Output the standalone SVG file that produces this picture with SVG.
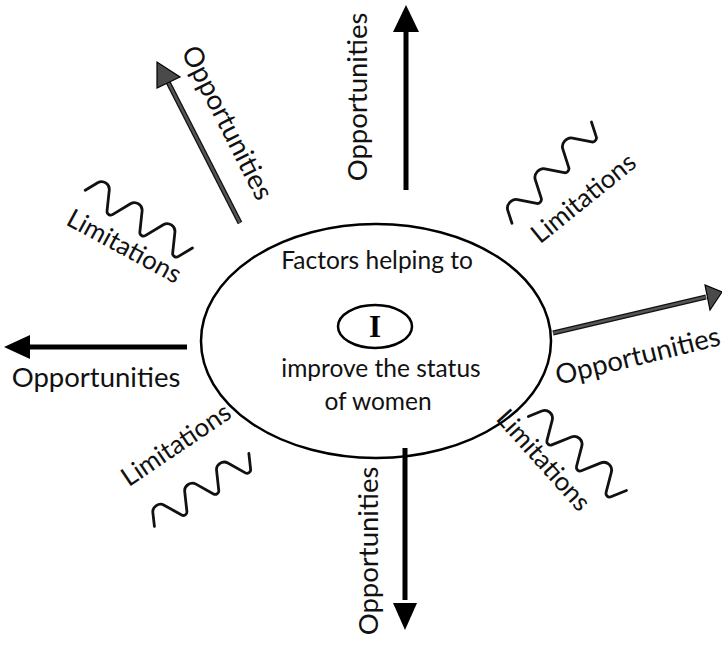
<svg xmlns="http://www.w3.org/2000/svg" width="722" height="647" viewBox="0 0 722 647">
  <defs>
    <style>
      .lbl { font-family: Lato, "Open Sans", "Liberation Sans", sans-serif; fill: #111; }
      .opp { font-size: 27.5px; }
      .lim { font-size: 26px; }
      .inner { font-size: 24.5px; text-anchor: middle; }
      .arrow-black { stroke: #000; stroke-width: 5; fill: none; }
      .head-black { fill: #000; }
      .arrow-gray-edge { stroke: #111; stroke-width: 5; fill: none; }
      .arrow-gray { stroke: #555; stroke-width: 2.6; fill: none; }
      .head-gray { fill: #4a4a4a; stroke: #000; stroke-width: 1.2; stroke-linejoin: miter; }
      .squiggle { fill: none; stroke: #111; stroke-width: 2.8; stroke-linecap: round; stroke-linejoin: round; }
    </style>
    <!-- wave: 64-degree flanks, broad r=7.5 crests, tight r=3.5 troughs; three of each -->
    <path id="wave" class="squiggle" vector-effect="non-scaling-stroke"
      d="M-3.05,4.7 L3.25,-8.3 A7.5,7.5 0 0 1 16.75,-8.3 L25.95,10.53 A3.5,3.5 0 0 0 32.25,10.53
         L41.45,-8.3 A7.5,7.5 0 0 1 54.95,-8.3 L64.15,10.53 A3.5,3.5 0 0 0 70.45,10.53
         L79.65,-8.3 A7.5,7.5 0 0 1 93.15,-8.3 L102.35,10.53 A3.5,3.5 0 0 0 108.65,10.53 L115.95,-4.47"/>
  </defs>
  <rect width="722" height="647" fill="#fff"/>

  <!-- central factor node -->
  <g id="node-factors">
    <ellipse cx="376" cy="341" rx="175" ry="117" fill="#fff" stroke="#000" stroke-width="2.5"/>
    <text class="lbl inner" x="377" y="269">Factors helping to</text>
    <ellipse cx="375" cy="326.5" rx="37" ry="21.5" fill="#fff" stroke="#000" stroke-width="2.5"/>
    <text x="375" y="337" text-anchor="middle" font-family="Liberation Serif, serif" font-weight="bold" font-size="31" fill="#000">I</text>
    <text class="lbl inner" x="381" y="377">improve the status</text>
    <text class="lbl inner" x="378" y="410">of women</text>
  </g>

  <!-- connectors: opportunity arrows -->
  <g id="connectors">
    <!-- up -->
    <line class="arrow-black" x1="406" y1="190" x2="406" y2="30"/>
    <polygon class="head-black" points="406,5 419,32 393,32"/>
    <!-- down -->
    <line class="arrow-black" x1="405" y1="448" x2="405" y2="600"/>
    <polygon class="head-black" points="405,630 417,603 393,603"/>
    <!-- left -->
    <line class="arrow-black" x1="187" y1="347" x2="26" y2="347"/>
    <polygon class="head-black" points="4,347 30,335 30,359"/>
    <!-- upper left, grey -->
    <line class="arrow-gray-edge" x1="240" y1="223" x2="168" y2="82"/>
    <line class="arrow-gray" x1="240" y1="223" x2="168" y2="82"/>
    <polygon class="head-gray" points="157,62 157,88 180,77"/>
    <!-- right, grey -->
    <line class="arrow-gray-edge" x1="553" y1="333" x2="706" y2="297"/>
    <line class="arrow-gray" x1="553" y1="333" x2="706" y2="297"/>
    <polygon class="head-gray" points="722,292 705,285 710,310"/>
  </g>

  <!-- opportunity labels -->
  <g id="label-opp-up">
    <text class="lbl opp" text-anchor="middle" transform="translate(367,97) rotate(-90)">Opportunities</text>
  </g>
  <g id="label-opp-down">
    <text class="lbl opp" text-anchor="middle" transform="translate(378,551) rotate(-90)">Opportunities</text>
  </g>
  <g id="label-opp-left">
    <text class="lbl opp" text-anchor="middle" x="96" y="387">Opportunities</text>
  </g>
  <g id="label-opp-upleft">
    <text class="lbl opp" text-anchor="middle" transform="translate(219,127) rotate(63)">Opportunities</text>
  </g>
  <g id="label-opp-right">
    <text class="lbl opp" text-anchor="middle" transform="translate(640,365) rotate(-13.8)">Opportunities</text>
  </g>

  <!-- limitation squiggles and labels -->
  <g id="limit-upleft">
    <use href="#wave" transform="translate(90.4,188) rotate(32.6) scale(1.02,1)"/>
    <text class="lbl lim" text-anchor="middle" transform="translate(120,254) rotate(28.5)">Limitations</text>
  </g>
  <g id="limit-upright">
    <use href="#wave" transform="translate(511,218) rotate(-48.2) scale(1.08,0.9)"/>
    <text class="lbl lim" text-anchor="middle" transform="translate(589,205) rotate(-39)">Limitations</text>
  </g>
  <g id="limit-downleft">
    <use href="#wave" transform="translate(154.5,521) rotate(-33.5) scale(1,0.95)"/>
    <text class="lbl lim" text-anchor="middle" transform="translate(181,452) rotate(-34)">Limitations</text>
  </g>
  <g id="limit-downright">
    <use href="#wave" transform="translate(533.8,415) rotate(41.3) scale(1.03,1)"/>
    <text class="lbl lim" text-anchor="middle" transform="translate(537,466) rotate(48)">Limitations</text>
  </g>
</svg>
